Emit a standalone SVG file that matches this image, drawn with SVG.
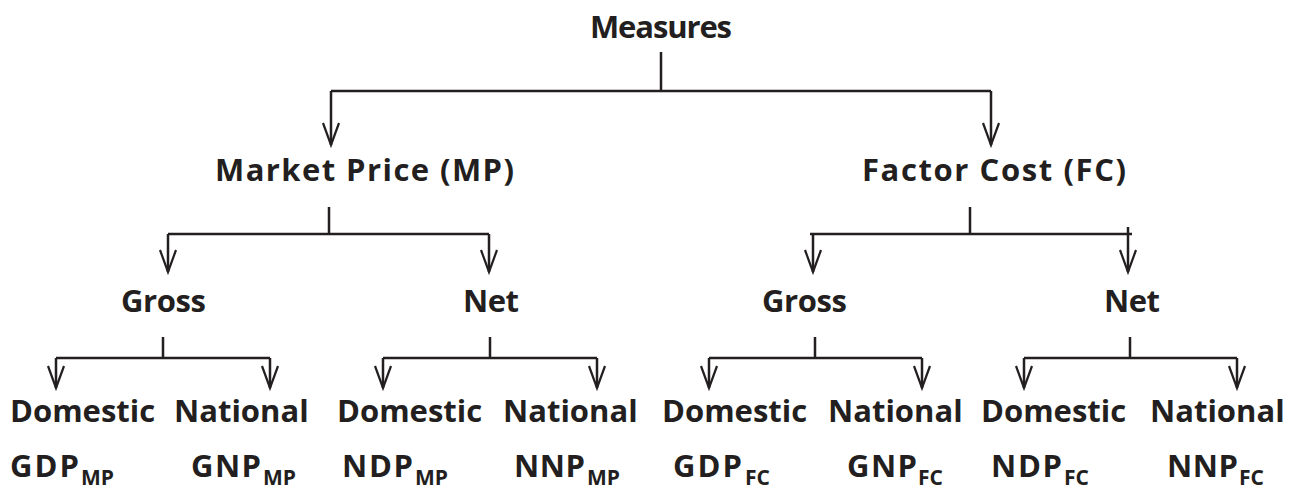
<svg xmlns="http://www.w3.org/2000/svg" width="1296" height="491" viewBox="0 0 1296 491">
<defs>
<style>
.t{font-family:"Open Sans","DejaVu Sans",sans-serif;font-weight:700;font-size:31px;fill:#231f20}
.s{font-family:"Open Sans","DejaVu Sans",sans-serif;font-weight:700;font-size:21px;fill:#231f20}
.c{fill:none;stroke:#231f20;stroke-width:2.5}
</style>
<marker id="ah" markerUnits="userSpaceOnUse" orient="auto" overflow="visible" markerWidth="24" markerHeight="20" refX="0" refY="0">
<path d="M-22,-8 L0,0 L-22,8" fill="none" stroke="#231f20" stroke-width="2.2"/>
</marker>
</defs>
<rect width="1296" height="491" fill="#fff"/>
<g id="connectors">
<path class="c" d="M661,52 V91 M331,91 H991"/>
<path class="c" d="M331,91 V145" marker-end="url(#ah)"/>
<path class="c" d="M991,91 V145" marker-end="url(#ah)"/>
<path class="c" d="M329,207 V234 M168,234 H489"/>
<path class="c" d="M168,234 V272" marker-end="url(#ah)"/>
<path class="c" d="M489,234 V272" marker-end="url(#ah)"/>
<path class="c" d="M970,207 V234 M810,234 H1132 M1128,227 V234"/>
<path class="c" d="M813,234 V272" marker-end="url(#ah)"/>
<path class="c" d="M1128,234 V272" marker-end="url(#ah)"/>
<path class="c" d="M163,337 V358 M56,358 H270"/>
<path class="c" d="M56,358 V388" marker-end="url(#ah)"/>
<path class="c" d="M270,358 V388" marker-end="url(#ah)"/>
<path class="c" d="M490,337 V358 M383,358 H597"/>
<path class="c" d="M383,358 V388" marker-end="url(#ah)"/>
<path class="c" d="M597,358 V388" marker-end="url(#ah)"/>
<path class="c" d="M815,337 V358 M709,358 H922"/>
<path class="c" d="M709,358 V388" marker-end="url(#ah)"/>
<path class="c" d="M922,358 V388" marker-end="url(#ah)"/>
<path class="c" d="M1130,337 V358 M1024,358 H1237"/>
<path class="c" d="M1024,358 V388" marker-end="url(#ah)"/>
<path class="c" d="M1237,358 V388" marker-end="url(#ah)"/>
</g>
<g id="measures"><text class="t" x="590" y="38" textLength="142">Measures</text></g>
<g id="mp"><text class="t" x="215" y="181" textLength="299">Market Price (MP)</text></g>
<g id="fc"><text class="t" x="862" y="181" textLength="264">Factor Cost (FC)</text></g>
<g id="mp-gross"><text class="t" x="121" y="312" textLength="85">Gross</text></g>
<g id="mp-net"><text class="t" x="463" y="312" textLength="56">Net</text></g>
<g id="fc-gross"><text class="t" x="762" y="312" textLength="85">Gross</text></g>
<g id="fc-net"><text class="t" x="1104" y="312" textLength="56">Net</text></g>
<g id="gdp-mp"><text class="t" x="10" y="422">Domestic</text><text class="t" x="10" y="477" textLength="69">GDP</text><text class="s" x="81" y="485">MP</text></g>
<g id="gnp-mp"><text class="t" x="174" y="422">National</text><text class="t" x="191" y="477" textLength="70">GNP</text><text class="s" x="263" y="485">MP</text></g>
<g id="ndp-mp"><text class="t" x="337" y="422">Domestic</text><text class="t" x="342" y="477" textLength="71">NDP</text><text class="s" x="415" y="485">MP</text></g>
<g id="nnp-mp"><text class="t" x="503" y="422">National</text><text class="t" x="514" y="477" textLength="71">NNP</text><text class="s" x="587" y="485">MP</text></g>
<g id="gdp-fc"><text class="t" x="662" y="422">Domestic</text><text class="t" x="673" y="477" textLength="69">GDP</text><text class="s" x="745" y="485">FC</text></g>
<g id="gnp-fc"><text class="t" x="828" y="422">National</text><text class="t" x="847" y="477" textLength="70">GNP</text><text class="s" x="918" y="485">FC</text></g>
<g id="ndp-fc"><text class="t" x="981" y="422">Domestic</text><text class="t" x="991" y="477" textLength="71">NDP</text><text class="s" x="1064" y="485">FC</text></g>
<g id="nnp-fc"><text class="t" x="1150" y="422">National</text><text class="t" x="1167" y="477" textLength="71">NNP</text><text class="s" x="1239" y="485">FC</text></g>
</svg>
